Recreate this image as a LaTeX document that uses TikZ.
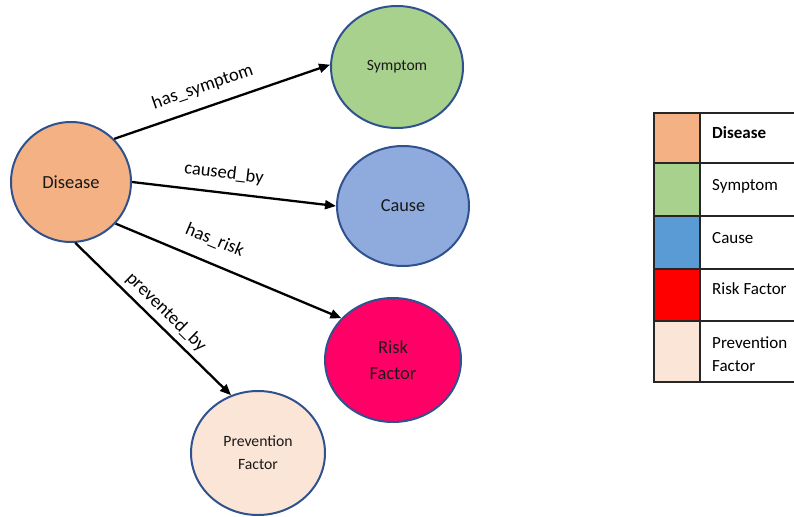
\documentclass[tikz,border=0pt]{standalone}
\usepackage{fontspec}
\setmainfont{Carlito}
\usetikzlibrary{arrows.meta,shapes.geometric}
\definecolor{ringblue}{HTML}{2F528F}
\definecolor{diseasefill}{HTML}{F4B183}
\definecolor{symptomfill}{HTML}{A9D18E}
\definecolor{causefill}{HTML}{8FAADC}
\definecolor{riskfill}{HTML}{FF0066}
\definecolor{preventfill}{HTML}{FBE5D6}
\definecolor{causekey}{HTML}{5B9BD5}
\definecolor{riskkey}{HTML}{FF0000}
\begin{document}
\begin{tikzpicture}[x=1pt,y=-1pt,
    concept/.style={ellipse,draw=ringblue,line width=2pt,inner sep=0pt,align=center,text=black!90},
    rel/.style={-{Triangle[length=11pt,width=9pt]},line width=2.3pt},
    lbl/.style={sloped,above=#1,inner sep=3pt,font=\fontsize{18.5}{22}\selectfont},
    lbl/.default=8pt,
    keytext/.style={anchor=base west,inner sep=0pt,align=left,font=\fontsize{17}{23}\selectfont}]
        \useasboundingbox (0,0) rectangle (794,516);
        \node[concept,fill=diseasefill,minimum width=120pt,minimum height=120pt,font=\fontsize{18.5}{22}\selectfont] (dis) at (71,182) {Disease};
        \node[concept,fill=symptomfill,minimum width=132pt,minimum height=122pt,font=\fontsize{15.6}{19}\selectfont] (sym) at (397,67) {Symptom};
        \node[concept,fill=causefill,minimum width=132pt,minimum height=120pt,font=\fontsize{18.3}{22}\selectfont] (cau) at (403,206) {Cause};
        \node[concept,fill=riskfill,minimum width=136pt,minimum height=124pt,font=\fontsize{18.4}{26}\selectfont] (risk) at (393,360) {Risk\\Factor};
        \node[concept,fill=preventfill,minimum width=134pt,minimum height=124pt,font=\fontsize{15.7}{23}\selectfont] (pre) at (258,453) {Prevention\\Factor};
        \draw[rel] (dis.45) -- node[lbl,pos=0.44] {has\_symptom} (sym.178);
        \draw[rel] (dis.0) -- node[lbl=7pt,pos=0.44] {caused\_by} (cau.west);
        \draw[rel] (dis.-43) -- node[lbl=11pt,pos=0.40] {has\_risk} (risk.141);
        \draw[rel] (dis.-86) -- node[lbl=2pt,pos=0.52] {prevented\_by} (pre.115);
        \foreach \top/\bot/\col in {113/163/diseasefill,163/216/symptomfill,216/269/causekey,269/321/riskkey,321/382/preventfill}
            \filldraw[fill=\col,draw=black!85,line width=1.5pt] (654,\top) rectangle (700,\bot);
        \foreach \y in {113,163,216,269,321,382}
            \draw[black!85,line width=1.5pt] (700,\y) -- (794,\y);
        \node[keytext,font=\fontsize{17}{23}\selectfont\bfseries] (kdis) at (712,139) {Disease};
        \node[keytext] (ksym) at (712,190) {Symptom};
        \node[keytext] (kcau) at (712,243) {Cause};
        \node[keytext] (krisk) at (712,294) {Risk Factor};
        \node[keytext,anchor=west] (kpre) at (712,354) {Prevention\\Factor};
      \end{tikzpicture}
\end{document}
